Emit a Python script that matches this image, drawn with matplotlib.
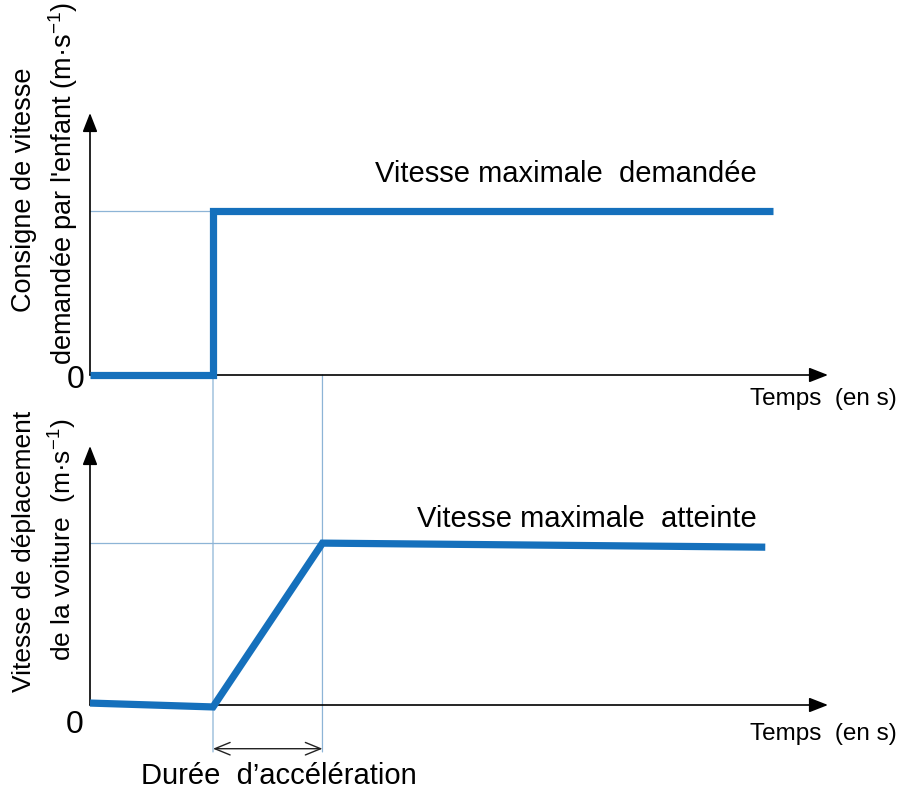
import matplotlib
matplotlib.use("Agg")
import matplotlib.pyplot as plt
from matplotlib.patches import ConnectionPatch

plt.rcParams['font.family'] = ['Liberation Sans', 'DejaVu Sans']
plt.rcParams['mathtext.fontset'] = 'custom'
plt.rcParams['mathtext.rm'] = 'Liberation Sans'
plt.rcParams['mathtext.it'] = 'Liberation Sans:italic'

# Données (unités arbitraires)
t_consigne = [0, 1.0, 1.0, 5.55]
v_consigne = [0, 0, 1.0, 1.0]
t_voiture = [0, 1.0, 1.89, 5.49]
v_voiture = [0.012, -0.012, 1.0, 0.975]
t_debut = 1.0   # instant de l'appui
t_fin = 1.89    # fin de l'accélération

bleu = '#1570bc'
guide = '#8db4d6'

fig = plt.figure(figsize=(9.03, 7.89), dpi=100)
fig.patch.set_facecolor('white')
ax1 = fig.add_axes([90/903, (789-375)/789, 738/903, 262/789])
ax2 = fig.add_axes([90/903, (789-705)/789, 738/903, 259/789])

fleche = '-|>,head_length=1.15,head_width=0.45'
for ax in (ax1, ax2):
    ax.set_xlim(0, 6.0)
    ax.set_ylim(0, 1.6)
    ax.axis('off')
    ax.patch.set_visible(False)
    # axes fléchés
    ax.annotate('', xy=(1, 0), xytext=(0, 0), xycoords='axes fraction', textcoords='axes fraction',
                arrowprops=dict(arrowstyle=fleche, color='black', lw=1.2, shrinkA=0, shrinkB=0))
    ax.annotate('', xy=(0, 1), xytext=(0, 0), xycoords='axes fraction', textcoords='axes fraction',
                arrowprops=dict(arrowstyle=fleche, color='black', lw=1.2, shrinkA=0, shrinkB=0))

# Graphe du haut : consigne
ax1.plot([0, t_debut], [max(v_consigne)] * 2, color=guide, lw=0.9, zorder=1)
ax1.plot(t_consigne, v_consigne, color=bleu, lw=5.2, solid_joinstyle='miter',
         solid_capstyle='butt', zorder=3, clip_on=False)
ax1.text(2.317, 1.177, "Vitesse maximale  demandée", fontsize=21, ha='left', va='baseline')
ax1.text(-0.114, -0.079, "0", fontsize=23, ha='center', va='baseline')
ax1.text(5.366, -0.183, "Temps  (en s)", fontsize=17.5, ha='left', va='baseline')
ax1.text(-0.54, 1.13, "Consigne de vitesse", fontsize=19.5, rotation=90, ha='center', va='center')
ax1.text(-0.22, 1.17, "demandée par l'enfant (m·s$^{-1}$)", fontsize=19.5, rotation=90,
         ha='center', va='center')

# Graphe du bas : vitesse de la voiture
ax2.plot([0, t_fin], [max(v_voiture)] * 2, color=guide, lw=0.9, zorder=1)
ax2.plot(t_voiture, v_voiture, color=bleu, lw=5.2, solid_joinstyle='miter',
         solid_capstyle='butt', zorder=3, clip_on=False)
ax2.text(2.66, 1.099, "Vitesse maximale  atteinte", fontsize=21, ha='left', va='baseline')
ax2.text(-0.122, -0.173, "0", fontsize=23, ha='center', va='baseline')
ax2.text(5.366, -0.216, "Temps  (en s)", fontsize=17.5, ha='left', va='baseline')
ax2.text(-0.54, 0.95, "Vitesse de déplacement", fontsize=19, rotation=90, ha='center', va='center')
ax2.text(-0.22, 1.02, "de la voiture  (m·s$^{-1}$)", fontsize=19, rotation=90,
         ha='center', va='center')

# Lignes de rappel entre les deux graphes
bas = -0.29
for xa, ya in [(t_debut, max(v_consigne)), (t_fin, 0)]:
    con = ConnectionPatch(xyA=(xa, ya), coordsA=ax1.transData,
                          xyB=(xa, bas), coordsB=ax2.transData,
                          color=guide, lw=0.9, zorder=-1)
    fig.add_artist(con)

# Durée d'accélération
ax2.annotate('', xy=(t_fin, -0.27), xytext=(t_debut, -0.27), xycoords='data',
             arrowprops=dict(arrowstyle='<->,head_length=1.1,head_width=0.45',
                             color='#222222', lw=1.0, shrinkA=0, shrinkB=0),
             annotation_clip=False)
ax2.text((t_debut + t_fin) / 2 + 0.09, -0.485, "Durée  d’accélération", fontsize=21,
         ha='center', va='baseline')

fig.savefig("out.png", dpi=100, facecolor='white')
